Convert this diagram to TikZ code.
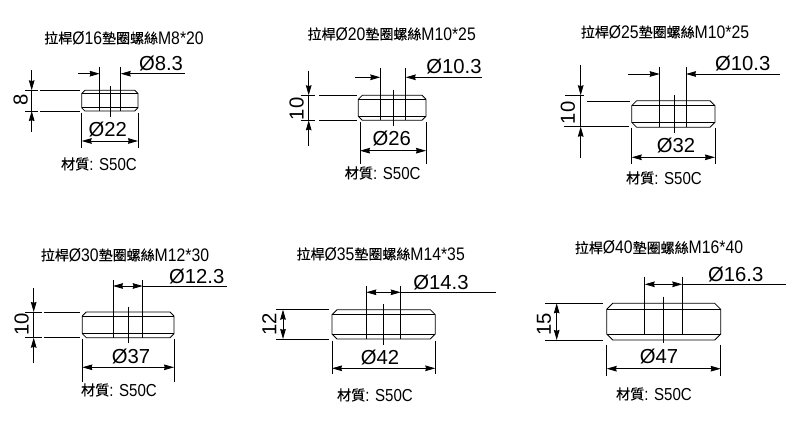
\documentclass[tikz,border=0pt]{standalone}
\usepackage{fontspec}
\setmainfont{Liberation Sans}
\newfontfamily\cjkf[FakeBold=0.35]{Noto Sans CJK TC}
\newfontfamily\narrowf[FakeStretch=0.87]{Liberation Sans}
\usetikzlibrary{arrows.meta}
\newcommand{\ttlcjk}[1]{\raisebox{0.7pt}{\cjkf\fontsize{10.5}{12}\selectfont #1}}
\newcommand{\wtitle}[2]{\ttlcjk{拉桿}Ø#1\ttlcjk{墊圈螺絲}#2}
\newcommand{\wmat}{\raisebox{0.6pt}{\cjkf\fontsize{10.6}{12}\selectfont 材質}: S50C}
\tikzset{
  x=0.75pt,y=-0.75pt,
  ln/.style={line width=0.6pt,black},
  arr/.style={ln,-{Stealth[length=7.5pt,width=4.2pt,inset=0.6pt]}},
  dblarr/.style={ln,{Stealth[length=7.5pt,width=4.2pt,inset=0.6pt]}-{Stealth[length=7.5pt,width=4.2pt,inset=0.6pt]}},
  dimtxt/.style={inner sep=0pt,font=\fontsize{15.2}{16}\selectfont},
  titletxt/.style={inner sep=0pt,font=\narrowf\fontsize{13.6}{14}\selectfont},
  mattxt/.style={inner sep=0pt,font=\narrowf\fontsize{13}{14}\selectfont},
}
% body outline with chamfers: l r t b c
\newcommand{\wbody}[5]{%
  \draw[ln] ({#1+#5},#3) -- ({#2-#5},#3) -- (#2,{#3+#5}) -- (#2,{#4-#5}) -- ({#2-#5},#4) -- ({#1+#5},#4) -- (#1,{#4-#5}) -- (#1,{#3+#5}) -- cycle;
  \draw[ln] (#1,{#3+#5}) -- (#2,{#3+#5}) (#1,{#4-#5}) -- (#2,{#4-#5});}
% bore lines: hl hr top bot cx ctop cbot
\newcommand{\wbore}[7]{%
  \draw[ln] (#1,#3) -- (#1,#4) (#2,#3) -- (#2,#4) (#5,#6) -- (#5,#7);}
% bore dimension, arrows outside: y hl hr leftend rightend
\newcommand{\boreout}[5]{%
  \draw[arr] (#4,#1) -- (#2,#1);
  \draw[arr] (#5,#1) -- (#3,#1);}
% bore dimension, arrows inside: y hl hr rightend
\newcommand{\borein}[4]{%
  \draw[dblarr] (#2,#1) -- (#3,#1);
  \draw[ln] (#3,#1) -- (#4,#1);}
% outer diameter: l r y exttop extbot
\newcommand{\odim}[5]{%
  \draw[dblarr] (#1,#3) -- (#2,#3);
  \draw[ln] (#1,#4) -- (#1,#5) (#2,#4) -- (#2,#5);}
% height dim, arrows outside: x t b topend botend
\newcommand{\htout}[5]{%
  \draw[arr] (#1,#4) -- (#1,#2);
  \draw[arr] (#1,#5) -- (#1,#3);
  \draw[ln] (#1,#2) -- (#1,#3);}
\begin{document}
\begin{tikzpicture}
\useasboundingbox (0,0) rectangle (800,427);
\fill[white] (0,0) rectangle (800,427);

% ---- 1
\node[titletxt] (t1) at (124,38) {\wtitle{16}{M8*20}};
\wbody{81.7}{138}{90.3}{111}{3.2}
\wbore{99.7}{120.7}{66.7}{111}{110.3}{86}{116.7}
\boreout{73.7}{99.7}{120.7}{78}{185}
\node[dimtxt] (b1) at (161,64) {Ø8.3};
\htout{31.7}{90.3}{111}{70}{132}
\draw[ln] (25,90.3) -- (37.7,90.3) (40,90.3) -- (80,90.3) (25,111) -- (37.7,111) (40,111) -- (80,111);
\node[dimtxt,rotate=90] (h1) at (20.7,100) {8};
\node[dimtxt] (o1) at (107.7,130) {Ø22};
\odim{81.7}{138}{141}{113}{148}
\node[mattxt] (m1) at (99,164) {\wmat};

% ---- 2
\node[titletxt] (t2) at (391.7,34) {\wtitle{20}{M10*25}};
\wbody{358.3}{426}{95.3}{120.3}{4}
\wbore{380.3}{405.7}{67.7}{120.3}{393.7}{90}{126}
\boreout{77.3}{380.3}{405.7}{355}{481.7}
\node[dimtxt] (b2) at (454,67) {Ø10.3};
\htout{308.7}{95.3}{120.3}{70.7}{146}
\draw[ln] (300.7,95.3) -- (315,95.3) (319.3,95.3) -- (356.7,95.3) (300.7,120.3) -- (315,120.3) (319.3,120.3) -- (356.7,120.3);
\node[dimtxt,rotate=90] (h2) at (296.7,109) {10};
\node[dimtxt] (o2) at (391.7,139) {Ø26};
\odim{360}{426}{150.7}{122}{164}
\node[mattxt] (m2) at (382.7,173) {\wmat};

% ---- 3
\node[titletxt] (t3) at (665,32) {\wtitle{25}{M10*25}};
\wbody{631.7}{715}{100.7}{127.3}{5}
\wbore{659.7}{686}{66.7}{127.3}{674}{95}{133}
\boreout{74}{659.7}{686}{628.3}{780}
\node[dimtxt] (b3) at (742.7,63.7) {Ø10.3};
\htout{580.7}{95.3}{126.7}{65}{158}
\draw[ln] (565,95.3) -- (584,95.3) (586.7,101.3) -- (630,101.3) (564,126) -- (629,126);
\node[dimtxt,rotate=90] (h3) at (568,113) {10};
\node[dimtxt] (o3) at (676,146) {Ø32};
\odim{631.7}{715}{157.3}{128}{164}
\node[mattxt] (m3) at (664,178) {\wmat};

% ---- 4
\node[titletxt] (t4) at (125,255) {\wtitle{30}{M12*30}};
\wbody{82.3}{174}{312}{337.7}{4}
\wbore{113}{142.7}{280}{337.7}{128.3}{306.7}{342.7}
\borein{286}{113}{142.7}{226.7}
\node[dimtxt] (b4) at (196.7,276.7) {Ø12.3};
\htout{33.7}{312}{337.7}{288}{363}
\draw[ln] (25,312) -- (41.7,312) (44,312) -- (80,312) (25,337.7) -- (41.7,337.7) (44,337.7) -- (80,337.7);
\node[dimtxt,rotate=90] (h4) at (21.7,324) {10};
\node[dimtxt] (o4) at (131,357) {Ø37};
\odim{82.3}{174}{367.3}{339}{381.7}
\node[mattxt] (m4) at (119,390) {\wmat};

% ---- 5
\node[titletxt] (t5) at (380.7,254) {\wtitle{35}{M14*35}};
\wbody{332}{435.3}{309.7}{339}{5}
\wbore{366.3}{400.7}{285.7}{339}{383.7}{304}{345}
\borein{292.3}{366.3}{400.7}{496}
\node[dimtxt] (b5) at (441,282.7) {Ø14.3};
\draw[dblarr] (283,309.7) -- (283,339);
\draw[ln] (275.7,309.7) -- (329,309.7) (275.7,339) -- (329,339);
\node[dimtxt,rotate=90] (h5) at (269.3,324.3) {12};
\node[dimtxt] (o5) at (380,357.3) {Ø42};
\odim{332}{435.3}{368.3}{341}{374}
\node[mattxt] (m5) at (375,395) {\wmat};

% ---- 6
\node[titletxt] (t6) at (659,247.7) {\wtitle{40}{M16*40}};
\wbody{606.7}{720.7}{303.3}{340}{6}
\wbore{644.7}{682.3}{276.7}{334.3}{663.7}{296.7}{343.3}
\borein{284.3}{644.7}{682.3}{786}
\node[dimtxt] (b6) at (735.7,274.3) {Ø16.3};
\draw[dblarr] (556.7,303.3) -- (556.7,340);
\draw[ln] (545,303.3) -- (603.3,303.3) (545,340) -- (603.3,340);
\node[dimtxt,rotate=90] (h6) at (544,324) {15};
\node[dimtxt] (o6) at (659,356.7) {Ø47};
\odim{606.7}{720.7}{368.7}{345}{375.7}
\node[mattxt] (m6) at (654,394) {\wmat};
\end{tikzpicture}
\end{document}
